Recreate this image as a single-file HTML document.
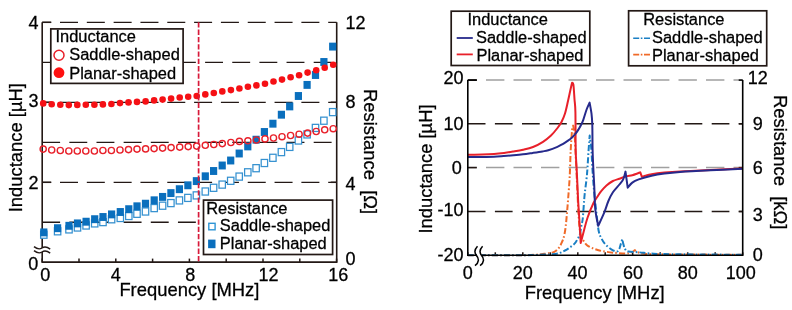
<!DOCTYPE html><html><head><meta charset="utf-8"><style>html,body{margin:0;padding:0;background:#fff;}svg{display:block;will-change:transform;}</style></head><body>
<svg width="792" height="310" viewBox="0 0 792 310" font-family='"Liberation Sans", sans-serif'>
<style>text{stroke:#000;stroke-width:0.28px;}</style>
<rect x="0" y="0" width="792" height="310" fill="#fff"/>
<line x1="42.2" y1="22.3" x2="336.7" y2="22.3" stroke="#231815" stroke-width="1.35" stroke-dasharray="18 8.82" stroke-dashoffset="-17.8"/>
<line x1="42.2" y1="22.3" x2="51.2" y2="22.3" stroke="#231815" stroke-width="1.5"/>
<line x1="42.2" y1="102.3" x2="336.7" y2="102.3" stroke="#231815" stroke-width="1.35" stroke-dasharray="18 8.82" stroke-dashoffset="-17.8"/>
<line x1="42.2" y1="102.3" x2="51.2" y2="102.3" stroke="#231815" stroke-width="1.5"/>
<line x1="42.2" y1="182.3" x2="336.7" y2="182.3" stroke="#231815" stroke-width="1.35" stroke-dasharray="18 8.82" stroke-dashoffset="-17.8"/>
<line x1="42.2" y1="182.3" x2="51.2" y2="182.3" stroke="#231815" stroke-width="1.5"/>
<line x1="42.2" y1="62.3" x2="336.7" y2="62.3" stroke="#231815" stroke-width="1.35" stroke-dasharray="17.9 9.25"/>
<line x1="42.2" y1="142.3" x2="336.7" y2="142.3" stroke="#231815" stroke-width="1.35" stroke-dasharray="17.9 9.25"/>
<line x1="42.2" y1="222.2" x2="336.7" y2="222.2" stroke="#231815" stroke-width="1.35" stroke-dasharray="17.9 9.25"/>
<line x1="42.2" y1="262.1" x2="42.2" y2="258.6" stroke="#231815" stroke-width="1.5"/>
<line x1="79.0" y1="262.1" x2="79.0" y2="258.6" stroke="#231815" stroke-width="1.5"/>
<line x1="115.8" y1="262.1" x2="115.8" y2="258.6" stroke="#231815" stroke-width="1.5"/>
<line x1="152.6" y1="262.1" x2="152.6" y2="258.6" stroke="#231815" stroke-width="1.5"/>
<line x1="189.4" y1="262.1" x2="189.4" y2="258.6" stroke="#231815" stroke-width="1.5"/>
<line x1="226.2" y1="262.1" x2="226.2" y2="258.6" stroke="#231815" stroke-width="1.5"/>
<line x1="263.0" y1="262.1" x2="263.0" y2="258.6" stroke="#231815" stroke-width="1.5"/>
<line x1="299.8" y1="262.1" x2="299.8" y2="258.6" stroke="#231815" stroke-width="1.5"/>
<line x1="336.6" y1="262.1" x2="336.6" y2="258.6" stroke="#231815" stroke-width="1.5"/>
<line x1="330.7" y1="102.3" x2="336.7" y2="102.3" stroke="#231815" stroke-width="1.5"/>
<line x1="330.7" y1="182.3" x2="336.7" y2="182.3" stroke="#231815" stroke-width="1.5"/>
<path d="M42.2,22.3 L42.2,262.1 L336.7,262.1 L336.7,22.3" fill="none" stroke="#231815" stroke-width="1.6"/>
<rect x="40.6" y="231.15" width="6.4" height="7.1" fill="#fff" stroke="#3591d0" stroke-width="1.25"/>
<rect x="54.4" y="227.75" width="6.4" height="7.1" fill="#fff" stroke="#3591d0" stroke-width="1.25"/>
<rect x="65.8" y="225.85" width="6.4" height="7.1" fill="#fff" stroke="#3591d0" stroke-width="1.25"/>
<rect x="74.3" y="223.95" width="6.4" height="7.1" fill="#fff" stroke="#3591d0" stroke-width="1.25"/>
<rect x="82.9" y="221.95" width="6.4" height="7.1" fill="#fff" stroke="#3591d0" stroke-width="1.25"/>
<rect x="91.5" y="219.85" width="6.4" height="7.1" fill="#fff" stroke="#3591d0" stroke-width="1.25"/>
<rect x="99.8" y="218.55" width="6.4" height="7.1" fill="#fff" stroke="#3591d0" stroke-width="1.25"/>
<rect x="108.4" y="215.75" width="6.4" height="7.1" fill="#fff" stroke="#3591d0" stroke-width="1.25"/>
<rect x="117.1" y="214.45" width="6.4" height="7.1" fill="#fff" stroke="#3591d0" stroke-width="1.25"/>
<rect x="125.6" y="212.45" width="6.4" height="7.1" fill="#fff" stroke="#3591d0" stroke-width="1.25"/>
<rect x="133.8" y="210.25" width="6.4" height="7.1" fill="#fff" stroke="#3591d0" stroke-width="1.25"/>
<rect x="142.3" y="207.95" width="6.4" height="7.1" fill="#fff" stroke="#3591d0" stroke-width="1.25"/>
<rect x="151.0" y="204.55" width="6.4" height="7.1" fill="#fff" stroke="#3591d0" stroke-width="1.25"/>
<rect x="159.4" y="202.15" width="6.4" height="7.1" fill="#fff" stroke="#3591d0" stroke-width="1.25"/>
<rect x="167.7" y="199.55" width="6.4" height="7.1" fill="#fff" stroke="#3591d0" stroke-width="1.25"/>
<rect x="176.2" y="196.85" width="6.4" height="7.1" fill="#fff" stroke="#3591d0" stroke-width="1.25"/>
<rect x="184.7" y="194.35" width="6.4" height="7.1" fill="#fff" stroke="#3591d0" stroke-width="1.25"/>
<rect x="193.2" y="191.85" width="6.4" height="7.1" fill="#fff" stroke="#3591d0" stroke-width="1.25"/>
<rect x="202.1" y="187.95" width="6.4" height="7.1" fill="#fff" stroke="#3591d0" stroke-width="1.25"/>
<rect x="210.4" y="184.25" width="6.4" height="7.1" fill="#fff" stroke="#3591d0" stroke-width="1.25"/>
<rect x="219.0" y="181.05" width="6.4" height="7.1" fill="#fff" stroke="#3591d0" stroke-width="1.25"/>
<rect x="227.5" y="177.25" width="6.4" height="7.1" fill="#fff" stroke="#3591d0" stroke-width="1.25"/>
<rect x="236.0" y="173.05" width="6.4" height="7.1" fill="#fff" stroke="#3591d0" stroke-width="1.25"/>
<rect x="244.6" y="168.75" width="6.4" height="7.1" fill="#fff" stroke="#3591d0" stroke-width="1.25"/>
<rect x="252.9" y="164.65" width="6.4" height="7.1" fill="#fff" stroke="#3591d0" stroke-width="1.25"/>
<rect x="261.2" y="159.45" width="6.4" height="7.1" fill="#fff" stroke="#3591d0" stroke-width="1.25"/>
<rect x="269.7" y="154.25" width="6.4" height="7.1" fill="#fff" stroke="#3591d0" stroke-width="1.25"/>
<rect x="278.2" y="148.55" width="6.4" height="7.1" fill="#fff" stroke="#3591d0" stroke-width="1.25"/>
<rect x="286.5" y="143.35" width="6.4" height="7.1" fill="#fff" stroke="#3591d0" stroke-width="1.25"/>
<rect x="295.2" y="136.95" width="6.4" height="7.1" fill="#fff" stroke="#3591d0" stroke-width="1.25"/>
<rect x="303.9" y="130.85" width="6.4" height="7.1" fill="#fff" stroke="#3591d0" stroke-width="1.25"/>
<rect x="312.3" y="124.35" width="6.4" height="7.1" fill="#fff" stroke="#3591d0" stroke-width="1.25"/>
<rect x="320.7" y="117.15" width="6.4" height="7.1" fill="#fff" stroke="#3591d0" stroke-width="1.25"/>
<rect x="329.5" y="108.55" width="6.4" height="7.1" fill="#fff" stroke="#3591d0" stroke-width="1.25"/>
<rect x="40.2" y="228.45" width="7.2" height="7.9" fill="#0a6fbd"/>
<rect x="54.0" y="224.25" width="7.2" height="7.9" fill="#0a6fbd"/>
<rect x="65.4" y="221.85" width="7.2" height="7.9" fill="#0a6fbd"/>
<rect x="73.9" y="219.45" width="7.2" height="7.9" fill="#0a6fbd"/>
<rect x="82.5" y="217.75" width="7.2" height="7.9" fill="#0a6fbd"/>
<rect x="91.1" y="215.25" width="7.2" height="7.9" fill="#0a6fbd"/>
<rect x="99.4" y="213.05" width="7.2" height="7.9" fill="#0a6fbd"/>
<rect x="108.0" y="210.45" width="7.2" height="7.9" fill="#0a6fbd"/>
<rect x="116.7" y="208.05" width="7.2" height="7.9" fill="#0a6fbd"/>
<rect x="125.2" y="205.25" width="7.2" height="7.9" fill="#0a6fbd"/>
<rect x="133.4" y="202.35" width="7.2" height="7.9" fill="#0a6fbd"/>
<rect x="141.9" y="199.75" width="7.2" height="7.9" fill="#0a6fbd"/>
<rect x="150.6" y="196.35" width="7.2" height="7.9" fill="#0a6fbd"/>
<rect x="159.0" y="192.95" width="7.2" height="7.9" fill="#0a6fbd"/>
<rect x="167.3" y="189.15" width="7.2" height="7.9" fill="#0a6fbd"/>
<rect x="175.8" y="185.25" width="7.2" height="7.9" fill="#0a6fbd"/>
<rect x="184.3" y="181.35" width="7.2" height="7.9" fill="#0a6fbd"/>
<rect x="192.8" y="177.15" width="7.2" height="7.9" fill="#0a6fbd"/>
<rect x="201.7" y="172.35" width="7.2" height="7.9" fill="#0a6fbd"/>
<rect x="210.0" y="167.05" width="7.2" height="7.9" fill="#0a6fbd"/>
<rect x="218.6" y="161.55" width="7.2" height="7.9" fill="#0a6fbd"/>
<rect x="227.1" y="156.55" width="7.2" height="7.9" fill="#0a6fbd"/>
<rect x="235.6" y="149.55" width="7.2" height="7.9" fill="#0a6fbd"/>
<rect x="244.2" y="142.45" width="7.2" height="7.9" fill="#0a6fbd"/>
<rect x="252.5" y="135.75" width="7.2" height="7.9" fill="#0a6fbd"/>
<rect x="260.8" y="128.05" width="7.2" height="7.9" fill="#0a6fbd"/>
<rect x="269.3" y="119.75" width="7.2" height="7.9" fill="#0a6fbd"/>
<rect x="277.8" y="110.75" width="7.2" height="7.9" fill="#0a6fbd"/>
<rect x="286.1" y="102.45" width="7.2" height="7.9" fill="#0a6fbd"/>
<rect x="294.8" y="92.05" width="7.2" height="7.9" fill="#0a6fbd"/>
<rect x="303.5" y="80.95" width="7.2" height="7.9" fill="#0a6fbd"/>
<rect x="311.9" y="71.05" width="7.2" height="7.9" fill="#0a6fbd"/>
<rect x="320.3" y="58.05" width="7.2" height="7.9" fill="#0a6fbd"/>
<rect x="329.1" y="42.65" width="7.2" height="7.9" fill="#0a6fbd"/>
<circle cx="43.2" cy="149.1" r="3.1" fill="none" stroke="#e8202a" stroke-width="1.4"/>
<circle cx="51.7" cy="150.0" r="3.1" fill="none" stroke="#e8202a" stroke-width="1.4"/>
<circle cx="60.3" cy="150.5" r="3.1" fill="none" stroke="#e8202a" stroke-width="1.4"/>
<circle cx="68.8" cy="151.0" r="3.1" fill="none" stroke="#e8202a" stroke-width="1.4"/>
<circle cx="77.3" cy="151.0" r="3.1" fill="none" stroke="#e8202a" stroke-width="1.4"/>
<circle cx="85.8" cy="151.0" r="3.1" fill="none" stroke="#e8202a" stroke-width="1.4"/>
<circle cx="94.4" cy="151.0" r="3.1" fill="none" stroke="#e8202a" stroke-width="1.4"/>
<circle cx="102.9" cy="150.5" r="3.1" fill="none" stroke="#e8202a" stroke-width="1.4"/>
<circle cx="111.4" cy="150.5" r="3.1" fill="none" stroke="#e8202a" stroke-width="1.4"/>
<circle cx="120.0" cy="150.0" r="3.1" fill="none" stroke="#e8202a" stroke-width="1.4"/>
<circle cx="128.5" cy="149.6" r="3.1" fill="none" stroke="#e8202a" stroke-width="1.4"/>
<circle cx="137.0" cy="149.1" r="3.1" fill="none" stroke="#e8202a" stroke-width="1.4"/>
<circle cx="145.6" cy="148.9" r="3.1" fill="none" stroke="#e8202a" stroke-width="1.4"/>
<circle cx="154.1" cy="148.6" r="3.1" fill="none" stroke="#e8202a" stroke-width="1.4"/>
<circle cx="162.6" cy="148.1" r="3.1" fill="none" stroke="#e8202a" stroke-width="1.4"/>
<circle cx="171.1" cy="147.6" r="3.1" fill="none" stroke="#e8202a" stroke-width="1.4"/>
<circle cx="179.7" cy="147.1" r="3.1" fill="none" stroke="#e8202a" stroke-width="1.4"/>
<circle cx="188.2" cy="146.6" r="3.1" fill="none" stroke="#e8202a" stroke-width="1.4"/>
<circle cx="196.7" cy="146.1" r="3.1" fill="none" stroke="#e8202a" stroke-width="1.4"/>
<circle cx="205.3" cy="145.3" r="3.1" fill="none" stroke="#e8202a" stroke-width="1.4"/>
<circle cx="213.8" cy="144.5" r="3.1" fill="none" stroke="#e8202a" stroke-width="1.4"/>
<circle cx="222.3" cy="143.6" r="3.1" fill="none" stroke="#e8202a" stroke-width="1.4"/>
<circle cx="230.9" cy="142.5" r="3.1" fill="none" stroke="#e8202a" stroke-width="1.4"/>
<circle cx="239.4" cy="141.4" r="3.1" fill="none" stroke="#e8202a" stroke-width="1.4"/>
<circle cx="247.9" cy="140.8" r="3.1" fill="none" stroke="#e8202a" stroke-width="1.4"/>
<circle cx="256.4" cy="140.0" r="3.1" fill="none" stroke="#e8202a" stroke-width="1.4"/>
<circle cx="265.0" cy="138.9" r="3.1" fill="none" stroke="#e8202a" stroke-width="1.4"/>
<circle cx="273.5" cy="138.0" r="3.1" fill="none" stroke="#e8202a" stroke-width="1.4"/>
<circle cx="282.0" cy="136.7" r="3.1" fill="none" stroke="#e8202a" stroke-width="1.4"/>
<circle cx="290.6" cy="135.5" r="3.1" fill="none" stroke="#e8202a" stroke-width="1.4"/>
<circle cx="299.1" cy="134.2" r="3.1" fill="none" stroke="#e8202a" stroke-width="1.4"/>
<circle cx="307.6" cy="133.1" r="3.1" fill="none" stroke="#e8202a" stroke-width="1.4"/>
<circle cx="316.2" cy="131.5" r="3.1" fill="none" stroke="#e8202a" stroke-width="1.4"/>
<circle cx="324.7" cy="129.8" r="3.1" fill="none" stroke="#e8202a" stroke-width="1.4"/>
<circle cx="333.2" cy="128.7" r="3.1" fill="none" stroke="#e8202a" stroke-width="1.4"/>
<circle cx="43.2" cy="103.4" r="3.3" fill="#f51015"/>
<circle cx="51.7" cy="104.2" r="3.3" fill="#f51015"/>
<circle cx="60.3" cy="104.8" r="3.3" fill="#f51015"/>
<circle cx="68.8" cy="105.1" r="3.3" fill="#f51015"/>
<circle cx="77.3" cy="104.9" r="3.3" fill="#f51015"/>
<circle cx="85.8" cy="104.7" r="3.3" fill="#f51015"/>
<circle cx="94.4" cy="104.7" r="3.3" fill="#f51015"/>
<circle cx="102.9" cy="104.4" r="3.3" fill="#f51015"/>
<circle cx="111.4" cy="104.0" r="3.3" fill="#f51015"/>
<circle cx="120.0" cy="103.1" r="3.3" fill="#f51015"/>
<circle cx="128.5" cy="102.4" r="3.3" fill="#f51015"/>
<circle cx="137.0" cy="101.9" r="3.3" fill="#f51015"/>
<circle cx="145.6" cy="101.4" r="3.3" fill="#f51015"/>
<circle cx="154.1" cy="100.4" r="3.3" fill="#f51015"/>
<circle cx="162.6" cy="99.6" r="3.3" fill="#f51015"/>
<circle cx="171.1" cy="98.6" r="3.3" fill="#f51015"/>
<circle cx="179.7" cy="97.5" r="3.3" fill="#f51015"/>
<circle cx="188.2" cy="96.8" r="3.3" fill="#f51015"/>
<circle cx="196.7" cy="96.0" r="3.3" fill="#f51015"/>
<circle cx="205.3" cy="94.4" r="3.3" fill="#f51015"/>
<circle cx="213.8" cy="93.0" r="3.3" fill="#f51015"/>
<circle cx="222.3" cy="91.4" r="3.3" fill="#f51015"/>
<circle cx="230.9" cy="90.1" r="3.3" fill="#f51015"/>
<circle cx="239.4" cy="88.5" r="3.3" fill="#f51015"/>
<circle cx="247.9" cy="86.8" r="3.3" fill="#f51015"/>
<circle cx="256.4" cy="85.4" r="3.3" fill="#f51015"/>
<circle cx="265.0" cy="83.7" r="3.3" fill="#f51015"/>
<circle cx="273.5" cy="81.5" r="3.3" fill="#f51015"/>
<circle cx="282.0" cy="79.6" r="3.3" fill="#f51015"/>
<circle cx="290.6" cy="77.3" r="3.3" fill="#f51015"/>
<circle cx="299.1" cy="75.2" r="3.3" fill="#f51015"/>
<circle cx="307.6" cy="72.6" r="3.3" fill="#f51015"/>
<circle cx="316.2" cy="70.3" r="3.3" fill="#f51015"/>
<circle cx="324.7" cy="67.8" r="3.3" fill="#f51015"/>
<circle cx="333.2" cy="64.7" r="3.3" fill="#f51015"/>
<line x1="198.6" y1="22.3" x2="198.6" y2="262.1" stroke="#d81a3a" stroke-width="1.7" stroke-dasharray="5.3 2"/>
<path d="M34,246.6 Q38.5,250.3 42,248 T50.2,249.1 L50.2,253.1 Q45.5,249.7 42,252 T34,250.6 Z" fill="#fff"/>
<path d="M34,246.6 Q38.5,250.3 42,248 T50.2,249.1" fill="none" stroke="#231815" stroke-width="1.45"/>
<path d="M34,250.6 Q38.5,254.3 42,252.0 T50.2,253.1" fill="none" stroke="#231815" stroke-width="1.45"/>
<rect x="50.8" y="28.9" width="132.3" height="54.5" fill="#fff" stroke="#231815" stroke-width="1.7"/>
<text x="55.5" y="42.4" font-size="16.45" fill="#000">Inductance</text>
<circle cx="59" cy="55.3" r="5" fill="#fff" stroke="#e8202a" stroke-width="1.5"/>
<text x="69.2" y="60.4" font-size="16.45" fill="#000">Saddle-shaped</text>
<circle cx="59" cy="72.7" r="5.4" fill="#ff1010"/>
<text x="69.2" y="78.6" font-size="16.45" fill="#000">Planar-shaped</text>
<rect x="203.5" y="200.1" width="129.1" height="54.4" fill="#fff" stroke="#231815" stroke-width="1.7"/>
<text x="206.2" y="213.7" font-size="16.45" fill="#000">Resistance</text>
<rect x="208.8" y="223.3" width="6.3" height="6.5" fill="#fff" stroke="#2f95d5" stroke-width="1.4"/>
<text x="219.8" y="231" font-size="16.45" fill="#000">Saddle-shaped</text>
<rect x="208.1" y="239.6" width="7.4" height="8.6" fill="#0a6fbd"/>
<text x="219.8" y="249.2" font-size="16.45" fill="#000">Planar-shaped</text>
<text x="38.6" y="28.5" font-size="18" text-anchor="end" fill="#000">4</text>
<text x="38.6" y="107" font-size="18" text-anchor="end" fill="#000">3</text>
<text x="38.6" y="189" font-size="18" text-anchor="end" fill="#000">2</text>
<text x="38.2" y="269.8" font-size="18" text-anchor="end" fill="#000">0</text>
<text x="45.2" y="281.3" font-size="18" text-anchor="middle" fill="#000">0</text>
<text x="115.8" y="281.3" font-size="18" text-anchor="middle" fill="#000">4</text>
<text x="190.3" y="281.3" font-size="18" text-anchor="middle" fill="#000">8</text>
<text x="268.5" y="281.3" font-size="18" text-anchor="middle" fill="#000">12</text>
<text x="338.2" y="281.3" font-size="18" text-anchor="middle" fill="#000">16</text>
<text x="345.5" y="28.6" font-size="18" text-anchor="start" fill="#000">12</text>
<text x="345.5" y="107.5" font-size="18" text-anchor="start" fill="#000">8</text>
<text x="345.5" y="190" font-size="18" text-anchor="start" fill="#000">4</text>
<text x="345.5" y="265.2" font-size="18" text-anchor="start" fill="#000">0</text>
<text x="119.4" y="295.6" font-size="18.4" text-anchor="start" fill="#000">Frequency [MHz]</text>
<text transform="translate(21.8,212.3) rotate(-90)" font-size="18.4" fill="#000">Inductance [µH]</text>
<text transform="translate(364,89) rotate(90)" font-size="18.4" fill="#000" xml:space="preserve">Resistance  [Ω]</text>
<line x1="467.8" y1="80.1" x2="742.7" y2="80.1" stroke="#a0a0a0" stroke-width="1.5" stroke-dasharray="18.4 9.1" stroke-dashoffset="-18.2"/>
<line x1="467.8" y1="80.1" x2="476.8" y2="80.1" stroke="#231815" stroke-width="1.5"/>
<line x1="467.8" y1="167.6" x2="742.7" y2="167.6" stroke="#a0a0a0" stroke-width="1.5" stroke-dasharray="18.4 9.1" stroke-dashoffset="-18.2"/>
<line x1="467.8" y1="167.6" x2="476.8" y2="167.6" stroke="#231815" stroke-width="1.5"/>
<line x1="467.8" y1="123.8" x2="742.7" y2="123.8" stroke="#231815" stroke-width="1.5" stroke-dasharray="17.7 9.4"/>
<line x1="467.8" y1="211.5" x2="742.7" y2="211.5" stroke="#231815" stroke-width="1.5" stroke-dasharray="17.7 9.4"/>
<line x1="467.8" y1="255.3" x2="467.8" y2="252.3" stroke="#231815" stroke-width="1.5"/>
<line x1="495.3" y1="255.3" x2="495.3" y2="252.3" stroke="#231815" stroke-width="1.5"/>
<line x1="522.8" y1="255.3" x2="522.8" y2="252.3" stroke="#231815" stroke-width="1.5"/>
<line x1="550.3" y1="255.3" x2="550.3" y2="252.3" stroke="#231815" stroke-width="1.5"/>
<line x1="577.8" y1="255.3" x2="577.8" y2="252.3" stroke="#231815" stroke-width="1.5"/>
<line x1="605.2" y1="255.3" x2="605.2" y2="252.3" stroke="#231815" stroke-width="1.5"/>
<line x1="632.7" y1="255.3" x2="632.7" y2="252.3" stroke="#231815" stroke-width="1.5"/>
<line x1="660.2" y1="255.3" x2="660.2" y2="252.3" stroke="#231815" stroke-width="1.5"/>
<line x1="687.7" y1="255.3" x2="687.7" y2="252.3" stroke="#231815" stroke-width="1.5"/>
<line x1="715.2" y1="255.3" x2="715.2" y2="252.3" stroke="#231815" stroke-width="1.5"/>
<line x1="742.7" y1="255.3" x2="742.7" y2="252.3" stroke="#231815" stroke-width="1.5"/>
<line x1="738.7" y1="123.8" x2="742.7" y2="123.8" stroke="#231815" stroke-width="1.5"/>
<line x1="738.7" y1="167.6" x2="742.7" y2="167.6" stroke="#231815" stroke-width="1.5"/>
<line x1="738.7" y1="211.5" x2="742.7" y2="211.5" stroke="#231815" stroke-width="1.5"/>
<path d="M467.80,255.30 C473.17,255.30 490.47,255.32 500.00,255.30 C509.53,255.28 518.33,255.35 525.00,255.20 C531.67,255.05 536.50,254.67 540.00,254.40 C543.50,254.13 543.95,253.90 546.00,253.60 C548.05,253.30 550.63,253.07 552.30,252.60 C553.97,252.13 554.80,251.73 556.00,250.80 C557.20,249.87 558.50,248.47 559.50,247.00 C560.50,245.53 561.27,243.70 562.00,242.00 C562.73,240.30 563.32,239.13 563.90,236.80 C564.48,234.47 565.02,231.63 565.50,228.00 C565.98,224.37 566.37,219.80 566.80,215.00 C567.23,210.20 567.62,205.60 568.10,199.20 C568.58,192.80 569.27,184.80 569.70,176.60 C570.13,168.40 570.30,157.77 570.70,150.00 C571.10,142.23 571.68,134.07 572.10,130.00 C572.52,125.93 573.02,126.33 573.20,125.60 C573.43,127.17 574.15,129.27 574.60,135.00 C575.05,140.73 575.48,151.67 575.90,160.00 C576.32,168.33 576.70,176.67 577.10,185.00 C577.50,193.33 577.90,203.00 578.30,210.00 C578.70,217.00 579.00,222.58 579.50,227.00 C580.00,231.42 580.55,234.08 581.30,236.50 C582.05,238.92 583.05,240.05 584.00,241.50 C584.95,242.95 585.75,244.15 587.00,245.20 C588.25,246.25 589.83,247.03 591.50,247.80 C593.17,248.57 595.07,249.22 597.00,249.80 C598.93,250.38 600.15,250.80 603.10,251.30 C606.05,251.80 610.92,252.45 614.70,252.80 C618.48,253.15 623.08,253.43 625.80,253.40 C628.52,253.37 629.50,253.13 631.00,252.60 C632.50,252.07 634.17,250.60 634.80,250.20 C635.33,250.53 636.70,251.63 638.00,252.20 C639.30,252.77 638.93,253.25 642.60,253.60 C646.27,253.95 643.32,254.10 660.00,254.30 C676.68,254.50 728.92,254.72 742.70,254.80" fill="none" stroke="#f06a28" stroke-width="2" stroke-dasharray="6 2.2 1.6 2.2" stroke-linejoin="round"/>
<path d="M467.80,255.30 C476.50,255.30 508.80,255.35 520.00,255.30 C531.20,255.25 530.83,255.12 535.00,255.00 C539.17,254.88 542.12,254.73 545.00,254.60 C547.88,254.47 549.88,254.47 552.30,254.20 C554.72,253.93 557.38,253.62 559.50,253.00 C561.62,252.38 563.12,251.53 565.00,250.50 C566.88,249.47 569.13,248.02 570.80,246.80 C572.47,245.58 573.92,244.42 575.00,243.20 C576.08,241.98 576.50,240.95 577.30,239.50 C578.10,238.05 579.13,236.75 579.80,234.50 C580.47,232.25 580.82,228.58 581.30,226.00 C581.78,223.42 582.28,222.50 582.70,219.00 C583.12,215.50 583.47,209.17 583.80,205.00 C584.13,200.83 584.17,199.13 584.70,194.00 C585.23,188.87 586.35,181.53 587.00,174.20 C587.65,166.87 588.15,156.43 588.60,150.00 C589.05,143.57 589.52,138.00 589.70,135.60 C589.98,138.00 590.93,144.27 591.40,150.00 C591.87,155.73 592.07,163.33 592.50,170.00 C592.93,176.67 593.37,183.00 594.00,190.00 C594.63,197.00 595.52,205.17 596.30,212.00 C597.08,218.83 597.82,226.55 598.70,231.00 C599.58,235.45 600.47,236.45 601.60,238.70 C602.73,240.95 603.88,242.73 605.50,244.50 C607.12,246.27 609.42,248.13 611.30,249.30 C613.18,250.47 615.48,251.52 616.80,251.50 C618.12,251.48 618.58,250.28 619.20,249.20 C619.82,248.12 620.00,246.67 620.50,245.00 C621.00,243.33 621.92,240.17 622.20,239.20 C622.43,240.17 623.13,243.37 623.60,245.00 C624.07,246.63 624.20,247.92 625.00,249.00 C625.80,250.08 626.12,250.95 628.40,251.50 C630.68,252.05 634.83,251.95 638.70,252.30 C642.57,252.65 647.30,253.30 651.60,253.60 C655.90,253.90 649.32,253.90 664.50,254.10 C679.68,254.30 729.67,254.68 742.70,254.80" fill="none" stroke="#1a7fc4" stroke-width="2" stroke-dasharray="6 2.2 1.6 2.2" stroke-linejoin="round"/>
<path d="M467.80,154.80 C470.17,154.75 477.63,154.65 482.00,154.50 C486.37,154.35 490.33,154.17 494.00,153.90 C497.67,153.63 500.83,153.28 504.00,152.90 C507.17,152.52 509.83,152.12 513.00,151.60 C516.17,151.08 519.67,150.57 523.00,149.80 C526.33,149.03 529.67,148.33 533.00,147.00 C536.33,145.67 540.00,143.72 543.00,141.80 C546.00,139.88 548.58,137.80 551.00,135.50 C553.42,133.20 555.75,130.25 557.50,128.00 C559.25,125.75 560.25,124.42 561.50,122.00 C562.75,119.58 563.92,117.00 565.00,113.50 C566.08,110.00 567.08,105.00 568.00,101.00 C568.92,97.00 569.82,92.55 570.50,89.50 C571.18,86.45 571.83,83.83 572.10,82.70 C572.32,83.03 573.00,81.95 573.40,84.70 C573.80,87.45 574.17,94.63 574.50,99.20 C574.83,103.77 575.20,103.63 575.40,112.10 C575.60,120.57 575.52,141.02 575.70,150.00 C575.88,158.98 576.23,160.62 576.50,166.00 C576.77,171.38 577.03,176.63 577.30,182.30 C577.57,187.97 577.77,193.88 578.10,200.00 C578.43,206.12 578.87,211.83 579.30,219.00 C579.73,226.17 580.47,239.00 580.70,243.00 C581.12,241.40 582.05,237.65 583.20,233.40 C584.35,229.15 585.88,222.57 587.60,217.50 C589.32,212.43 591.73,206.67 593.50,203.00 C595.27,199.33 596.95,197.45 598.20,195.50 C599.45,193.55 599.62,192.98 601.00,191.30 C602.38,189.62 604.52,187.12 606.50,185.40 C608.48,183.68 610.75,182.12 612.90,181.00 C615.05,179.88 617.25,179.45 619.40,178.70 C621.55,177.95 623.65,177.08 625.80,176.50 C627.95,175.92 630.37,175.70 632.30,175.20 C634.23,174.70 636.07,173.98 637.40,173.50 C638.73,173.02 639.82,172.50 640.30,172.30 C640.57,173.05 641.63,176.05 641.90,176.80 C642.45,176.62 643.58,176.13 645.20,175.70 C646.82,175.27 648.38,174.72 651.60,174.20 C654.82,173.68 659.77,173.07 664.50,172.60 C669.23,172.13 672.35,171.83 680.00,171.40 C687.65,170.97 701.97,170.38 710.40,170.00 C718.83,169.62 725.22,169.33 730.60,169.10 C735.98,168.87 740.68,168.68 742.70,168.60" fill="none" stroke="#e8202a" stroke-width="2" stroke-linejoin="round"/>
<path d="M467.80,157.00 C470.18,157.00 477.73,157.03 482.10,157.00 C486.47,156.97 490.40,156.95 494.00,156.80 C497.60,156.65 500.48,156.35 503.70,156.10 C506.92,155.85 510.08,155.60 513.30,155.30 C516.52,155.00 519.77,154.70 523.00,154.30 C526.23,153.90 529.47,153.38 532.70,152.90 C535.93,152.42 539.80,151.85 542.40,151.40 C545.00,150.95 545.80,150.97 548.30,150.20 C550.80,149.43 555.07,147.78 557.40,146.80 C559.73,145.82 560.53,145.33 562.30,144.30 C564.07,143.27 566.38,141.75 568.00,140.60 C569.62,139.45 570.83,138.45 572.00,137.40 C573.17,136.35 573.93,135.60 575.00,134.30 C576.07,133.00 577.40,131.15 578.40,129.60 C579.40,128.05 580.18,126.63 581.00,125.00 C581.82,123.37 582.37,122.38 583.30,119.80 C584.23,117.22 585.55,112.37 586.60,109.50 C587.65,106.63 589.10,103.75 589.60,102.60 C589.92,104.45 591.05,109.97 591.50,113.70 C591.95,117.43 592.12,118.95 592.30,125.00 C592.48,131.05 592.42,142.50 592.60,150.00 C592.78,157.50 593.13,164.17 593.40,170.00 C593.67,175.83 593.88,178.45 594.20,185.00 C594.52,191.55 594.63,202.50 595.30,209.30 C595.97,216.10 597.72,223.05 598.20,225.80 C599.17,223.70 602.30,217.33 604.00,213.20 C605.70,209.07 606.92,204.48 608.40,201.00 C609.88,197.52 611.07,195.05 612.90,192.30 C614.73,189.55 617.68,186.65 619.40,184.50 C621.12,182.35 622.18,181.55 623.20,179.40 C624.22,177.25 625.12,172.90 625.50,171.60 C625.87,174.28 627.33,185.02 627.70,187.70 C628.47,186.85 630.47,183.98 632.30,182.60 C634.13,181.22 635.48,180.55 638.70,179.40 C641.92,178.25 647.30,176.68 651.60,175.70 C655.90,174.72 659.77,174.13 664.50,173.50 C669.23,172.87 672.35,172.45 680.00,171.90 C687.65,171.35 699.95,170.72 710.40,170.20 C720.85,169.68 737.32,169.03 742.70,168.80" fill="none" stroke="#262a8c" stroke-width="2" stroke-linejoin="round"/>
<path d="M467.8,80.1 L467.8,255.3 L742.7,255.3 L742.7,80.1" fill="none" stroke="#000" stroke-width="1.6"/>
<line x1="467.8" y1="80.1" x2="476.8" y2="80.1" stroke="#000" stroke-width="1.5"/>
<line x1="738.7" y1="80.1" x2="742.7" y2="80.1" stroke="#000" stroke-width="1.5"/>
<rect x="476.8" y="253.2" width="5" height="4.6" fill="#fff"/>
<path d="M477.5,246.3 C474,250 474,252.5 476.5,255.5 S479.5,262 475,265.7" fill="none" stroke="#000" stroke-width="1.5"/>
<path d="M482.6,246.3 C479.1,250 479.1,252.5 481.6,255.5 S484.6,262 480.1,265.7" fill="none" stroke="#000" stroke-width="1.5"/>
<rect x="451.2" y="11.2" width="138.6" height="54.3" fill="#fff" stroke="#231815" stroke-width="1.7"/>
<text x="467.5" y="25" font-size="16.45" fill="#000">Inductance</text>
<line x1="456.7" y1="38" x2="472.8" y2="38" stroke="#262a8c" stroke-width="1.8"/>
<text x="476" y="42.5" font-size="16.45" fill="#000">Saddle-shaped</text>
<line x1="456.7" y1="54.4" x2="472.8" y2="54.4" stroke="#e8202a" stroke-width="1.8"/>
<text x="476.5" y="60.6" font-size="16.45" fill="#000">Planar-shaped</text>
<rect x="628.6" y="10.8" width="138.1" height="55" fill="#fff" stroke="#231815" stroke-width="1.7"/>
<text x="643.2" y="25" font-size="16.45" fill="#000">Resistance</text>
<line x1="633.2" y1="38.2" x2="650" y2="38.2" stroke="#1a7fc4" stroke-width="1.6" stroke-dasharray="6 1.6 1.6 1.6"/>
<text x="652" y="42.7" font-size="16.45" fill="#000">Saddle-shaped</text>
<line x1="633.2" y1="54.6" x2="650" y2="54.6" stroke="#f06a28" stroke-width="1.6" stroke-dasharray="6 1.6 1.6 1.6"/>
<text x="652" y="61" font-size="16.45" fill="#000">Planar-shaped</text>
<text x="463.6" y="83.6" font-size="18" text-anchor="end" fill="#000">20</text>
<text x="463.6" y="129.6" font-size="18" text-anchor="end" fill="#000">10</text>
<text x="461.8" y="173.6" font-size="18" text-anchor="end" fill="#000">0</text>
<text x="463.6" y="215.9" font-size="18" text-anchor="end" fill="#000">-10</text>
<text x="463.6" y="260.5" font-size="18" text-anchor="end" fill="#000">-20</text>
<text x="467.7" y="278.5" font-size="18" text-anchor="middle" fill="#000">0</text>
<text x="522.8" y="278.8" font-size="18" text-anchor="middle" fill="#000">20</text>
<text x="577.4" y="278.8" font-size="18" text-anchor="middle" fill="#000">40</text>
<text x="633" y="278.8" font-size="18" text-anchor="middle" fill="#000">60</text>
<text x="687.7" y="278.8" font-size="18" text-anchor="middle" fill="#000">80</text>
<text x="740.8" y="278.8" font-size="18" text-anchor="middle" fill="#000">100</text>
<text x="757.7" y="83.8" font-size="18" text-anchor="middle" fill="#000">12</text>
<text x="757.7" y="130.2" font-size="18" text-anchor="middle" fill="#000">9</text>
<text x="757.7" y="174.2" font-size="18" text-anchor="middle" fill="#000">6</text>
<text x="757.7" y="220.8" font-size="18" text-anchor="middle" fill="#000">3</text>
<text x="757.7" y="261.1" font-size="18" text-anchor="middle" fill="#000">0</text>
<text x="524.7" y="298.8" font-size="18.4" text-anchor="start" fill="#000">Frequency [MHz]</text>
<text transform="translate(431.9,233.6) rotate(-90)" font-size="18.4" fill="#000">Inductance [µH]</text>
<text transform="translate(773.9,95) rotate(90)" font-size="18.4" fill="#000" xml:space="preserve">Resistance  [kΩ]</text>
</svg></body></html>
